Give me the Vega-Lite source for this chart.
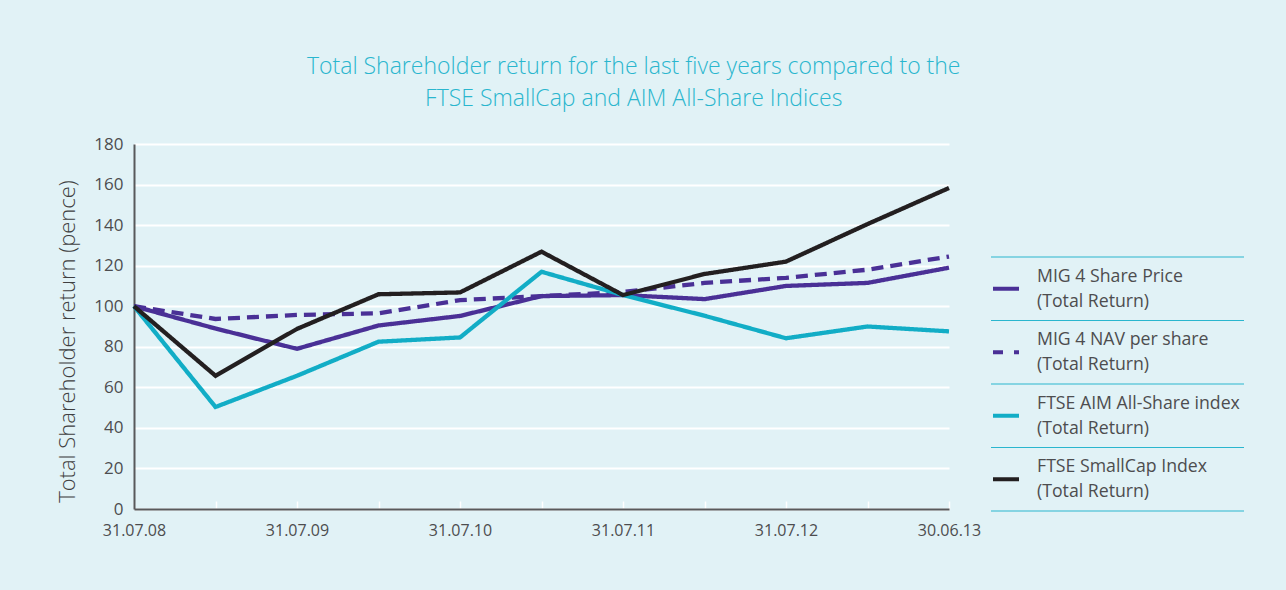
{
  "$schema": "https://vega.github.io/schema/vega-lite/v6.json",
  "background": "#e1f2f6",
  "padding": {"left": 56, "top": 56, "right": 41, "bottom": 56},
  "bounds": "flush",
  "spacing": 42,
  "title": {
    "text": ["Total Shareholder return for the last five years compared to the", "FTSE SmallCap and AIM All-Share Indices"],
    "color": "#2ab6ce",
    "font": "Open Sans",
    "fontSize": 23,
    "fontWeight": 300,
    "lineHeight": 32,
    "anchor": "middle",
    "dx": -17,
    "offset": 24
  },
  "config": {"view": {"stroke": null}, "font": "Open Sans"},
  "datasets": {
    "returns": [
      {"t": 0, "series": "MIG 4 Share Price\n(Total Return)", "value": 100},
      {"t": 1, "series": "MIG 4 Share Price\n(Total Return)", "value": 89},
      {"t": 2, "series": "MIG 4 Share Price\n(Total Return)", "value": 79},
      {"t": 3, "series": "MIG 4 Share Price\n(Total Return)", "value": 90.5},
      {"t": 4, "series": "MIG 4 Share Price\n(Total Return)", "value": 95.2},
      {"t": 5, "series": "MIG 4 Share Price\n(Total Return)", "value": 105},
      {"t": 6, "series": "MIG 4 Share Price\n(Total Return)", "value": 105.5},
      {"t": 7, "series": "MIG 4 Share Price\n(Total Return)", "value": 103.5},
      {"t": 8, "series": "MIG 4 Share Price\n(Total Return)", "value": 110},
      {"t": 9, "series": "MIG 4 Share Price\n(Total Return)", "value": 111.5},
      {"t": 10, "series": "MIG 4 Share Price\n(Total Return)", "value": 119},
      {"t": 0, "series": "MIG 4 NAV per share\n(Total Return)", "value": 100},
      {"t": 1, "series": "MIG 4 NAV per share\n(Total Return)", "value": 93.7},
      {"t": 2, "series": "MIG 4 NAV per share\n(Total Return)", "value": 95.7},
      {"t": 3, "series": "MIG 4 NAV per share\n(Total Return)", "value": 96.5},
      {"t": 4, "series": "MIG 4 NAV per share\n(Total Return)", "value": 103},
      {"t": 5, "series": "MIG 4 NAV per share\n(Total Return)", "value": 105},
      {"t": 6, "series": "MIG 4 NAV per share\n(Total Return)", "value": 107},
      {"t": 7, "series": "MIG 4 NAV per share\n(Total Return)", "value": 111.5},
      {"t": 8, "series": "MIG 4 NAV per share\n(Total Return)", "value": 114},
      {"t": 9, "series": "MIG 4 NAV per share\n(Total Return)", "value": 118},
      {"t": 10, "series": "MIG 4 NAV per share\n(Total Return)", "value": 124.5},
      {"t": 0, "series": "FTSE AIM All-Share index\n(Total Return)", "value": 100},
      {"t": 1, "series": "FTSE AIM All-Share index\n(Total Return)", "value": 50.3},
      {"t": 2, "series": "FTSE AIM All-Share index\n(Total Return)", "value": 65.7},
      {"t": 3, "series": "FTSE AIM All-Share index\n(Total Return)", "value": 82.5},
      {"t": 4, "series": "FTSE AIM All-Share index\n(Total Return)", "value": 84.6},
      {"t": 5, "series": "FTSE AIM All-Share index\n(Total Return)", "value": 117},
      {"t": 6, "series": "FTSE AIM All-Share index\n(Total Return)", "value": 105.5},
      {"t": 7, "series": "FTSE AIM All-Share index\n(Total Return)", "value": 95.3},
      {"t": 8, "series": "FTSE AIM All-Share index\n(Total Return)", "value": 84.2},
      {"t": 9, "series": "FTSE AIM All-Share index\n(Total Return)", "value": 90},
      {"t": 10, "series": "FTSE AIM All-Share index\n(Total Return)", "value": 87.6},
      {"t": 0, "series": "FTSE SmallCap Index\n(Total Return)", "value": 100},
      {"t": 1, "series": "FTSE SmallCap Index\n(Total Return)", "value": 65.7},
      {"t": 2, "series": "FTSE SmallCap Index\n(Total Return)", "value": 88.8},
      {"t": 3, "series": "FTSE SmallCap Index\n(Total Return)", "value": 105.9},
      {"t": 4, "series": "FTSE SmallCap Index\n(Total Return)", "value": 106.8},
      {"t": 5, "series": "FTSE SmallCap Index\n(Total Return)", "value": 126.9},
      {"t": 6, "series": "FTSE SmallCap Index\n(Total Return)", "value": 105.5},
      {"t": 7, "series": "FTSE SmallCap Index\n(Total Return)", "value": 115.9},
      {"t": 8, "series": "FTSE SmallCap Index\n(Total Return)", "value": 122},
      {"t": 9, "series": "FTSE SmallCap Index\n(Total Return)", "value": 140.5},
      {"t": 10, "series": "FTSE SmallCap Index\n(Total Return)", "value": 158.3}
    ]
  },
  "hconcat": [
    {
      "width": 815,
      "height": 365,
      "data": {"name": "returns"},
      "mark": {"type": "line", "strokeWidth": 4.3},
      "encoding": {
        "x": {
          "field": "t", "type": "quantitative",
          "scale": {"domain": [0, 10], "nice": false},
          "axis": {
            "title": null,
            "values": [0, 1, 2, 3, 4, 5, 6, 7, 8, 9, 10],
            "labelExpr": "datum.value % 2 == 0 ? ['31.07.08','31.07.09','31.07.10','31.07.11','31.07.12','30.06.13'][datum.value / 2] : ''",
            "grid": false,
            "domainColor": "#58595b",
            "domainWidth": 2,
            "tickColor": "#ffffff",
            "tickSize": -8,
            "tickWidth": 1.5,
            "labelFontSize": 16,
            "labelColor": "#4d4d4f",
            "labelPadding": 21,
            "labelFlush": false
          }
        },
        "y": {
          "field": "value", "type": "quantitative",
          "scale": {"domain": [0, 180], "nice": false},
          "axis": {
            "title": "Total Shareholder return (pence)",
            "values": [0, 20, 40, 60, 80, 100, 120, 140, 160, 180],
            "grid": true,
            "gridColor": "#ffffff",
            "gridWidth": 2,
            "ticks": false,
            "domainColor": "#58595b",
            "domainWidth": 2,
            "labelFontSize": 17,
            "labelColor": "#4d4d4f",
            "labelPadding": 11,
            "titleFontSize": 22,
            "titleFontWeight": 300,
            "titleColor": "#3f3f41",
            "titlePadding": 14,
            "titleY": 197,
            "titleAlign": "center"
          }
        },
        "color": {
          "field": "series", "type": "nominal",
          "scale": {
            "domain": ["MIG 4 Share Price\n(Total Return)", "MIG 4 NAV per share\n(Total Return)", "FTSE AIM All-Share index\n(Total Return)", "FTSE SmallCap Index\n(Total Return)"],
            "range": ["#4a3096", "#4a3096", "#12adc6", "#231f20"]
          },
          "legend": null
        },
        "strokeDash": {
          "field": "series", "type": "nominal",
          "scale": {
            "domain": ["MIG 4 Share Price\n(Total Return)", "MIG 4 NAV per share\n(Total Return)", "FTSE AIM All-Share index\n(Total Return)", "FTSE SmallCap Index\n(Total Return)"],
            "range": [[1, 0], [12, 7], [1, 0], [1, 0]]
          },
          "legend": null
        }
      }
    },
    {
      "width": 253,
      "height": 365,
      "data": {"name": "returns"},
      "transform": [{"filter": "datum.t == 0"}],
      "layer": [
        {
          "mark": {"type": "rule", "color": "#2ab6ce", "strokeWidth": 1.2},
          "encoding": {
            "y": {"field": "series", "type": "nominal", "bandPosition": 0, "axis": null,
              "scale": {"domain": ["MIG 4 Share Price\n(Total Return)", "MIG 4 NAV per share\n(Total Return)", "FTSE AIM All-Share index\n(Total Return)", "FTSE SmallCap Index\n(Total Return)"], "range": [113, 367], "paddingInner": 0, "paddingOuter": 0}},
            "x": {"value": 0},
            "x2": {"value": 253}
          }
        },
        {
          "transform": [{"filter": "indexof(datum.series, 'SmallCap') >= 0"}],
          "mark": {"type": "rule", "color": "#2ab6ce", "strokeWidth": 1.2},
          "encoding": {
            "y": {"field": "series", "type": "nominal", "bandPosition": 1, "axis": null,
              "scale": {"domain": ["MIG 4 Share Price\n(Total Return)", "MIG 4 NAV per share\n(Total Return)", "FTSE AIM All-Share index\n(Total Return)", "FTSE SmallCap Index\n(Total Return)"], "range": [113, 367], "paddingInner": 0, "paddingOuter": 0}},
            "x": {"value": 0},
            "x2": {"value": 253}
          }
        },
        {
          "mark": {"type": "rule", "strokeWidth": 4},
          "encoding": {
            "y": {"field": "series", "type": "nominal", "bandPosition": 0.5, "axis": null,
              "scale": {"domain": ["MIG 4 Share Price\n(Total Return)", "MIG 4 NAV per share\n(Total Return)", "FTSE AIM All-Share index\n(Total Return)", "FTSE SmallCap Index\n(Total Return)"], "range": [113, 367], "paddingInner": 0, "paddingOuter": 0}},
            "x": {"value": 2},
            "x2": {"condition": {"test": "indexof(datum.series, 'NAV') >= 0", "value": 33}, "value": 28},
            "color": {"field": "series", "type": "nominal", "legend": null},
            "strokeDash": {"field": "series", "type": "nominal", "legend": null,
              "scale": {"domain": ["MIG 4 Share Price\n(Total Return)", "MIG 4 NAV per share\n(Total Return)", "FTSE AIM All-Share index\n(Total Return)", "FTSE SmallCap Index\n(Total Return)"], "range": [[1, 0], [10, 11], [1, 0], [1, 0]]}}
          }
        },
        {
          "mark": {"type": "text", "align": "left", "baseline": "middle", "lineBreak": "\n", "lineHeight": 25, "fontSize": 17.7, "font": "Open Sans", "color": "#4d4d4f", "dy": -12},
          "encoding": {
            "y": {"field": "series", "type": "nominal", "bandPosition": 0.5, "axis": null,
              "scale": {"domain": ["MIG 4 Share Price\n(Total Return)", "MIG 4 NAV per share\n(Total Return)", "FTSE AIM All-Share index\n(Total Return)", "FTSE SmallCap Index\n(Total Return)"], "range": [113, 367], "paddingInner": 0, "paddingOuter": 0}},
            "x": {"value": 46},
            "text": {"field": "series"}
          }
        }
      ],
      "resolve": {"scale": {"strokeDash": "independent"}}
    }
  ],
  "resolve": {"scale": {"strokeDash": "independent"}}
}
